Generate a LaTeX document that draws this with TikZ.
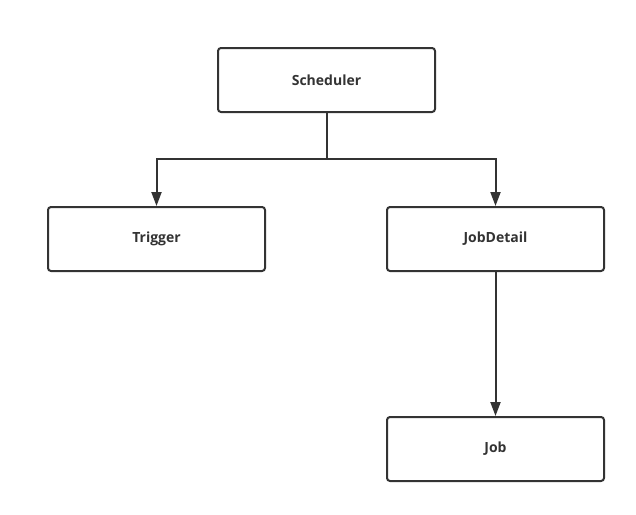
\documentclass[tikz,border=0pt]{standalone}
\usepackage{fontspec}
\setmainfont{Open Sans}
\usetikzlibrary{arrows.meta,positioning}

\definecolor{ink}{HTML}{333333}

\begin{document}
\begin{tikzpicture}[x=1pt,y=-1pt,
  box/.style={draw=ink,line width=2pt,rounded corners=3pt,fill=white,
    minimum width=217pt,minimum height=64pt,inner sep=0pt,
    font=\fontsize{14}{16}\selectfont\bfseries,text=ink},
  link/.style={draw=ink,line width=2pt},
  arrow/.style={link,-{Triangle[width=10pt,length=14pt]}}]
  \useasboundingbox (0,0) rectangle (636,514);

  \node[box] (Scheduler) at (326.5,80) {Scheduler};
  \node[box] (Trigger)   at (156.5,239) {Trigger};
  \node[box] (JobDetail) at (495.5,239) {JobDetail};
  \node[box] (Job)       at (495.5,449) {Job};

  \coordinate (fork) at (326.5,159); % branch point

  \draw[link]  (Scheduler) -- (fork);
  \draw[arrow] (fork) -| (Trigger);
  \draw[arrow] (fork) -| (JobDetail);
  \draw[arrow] (JobDetail) -- (Job);
\end{tikzpicture}
\end{document}
